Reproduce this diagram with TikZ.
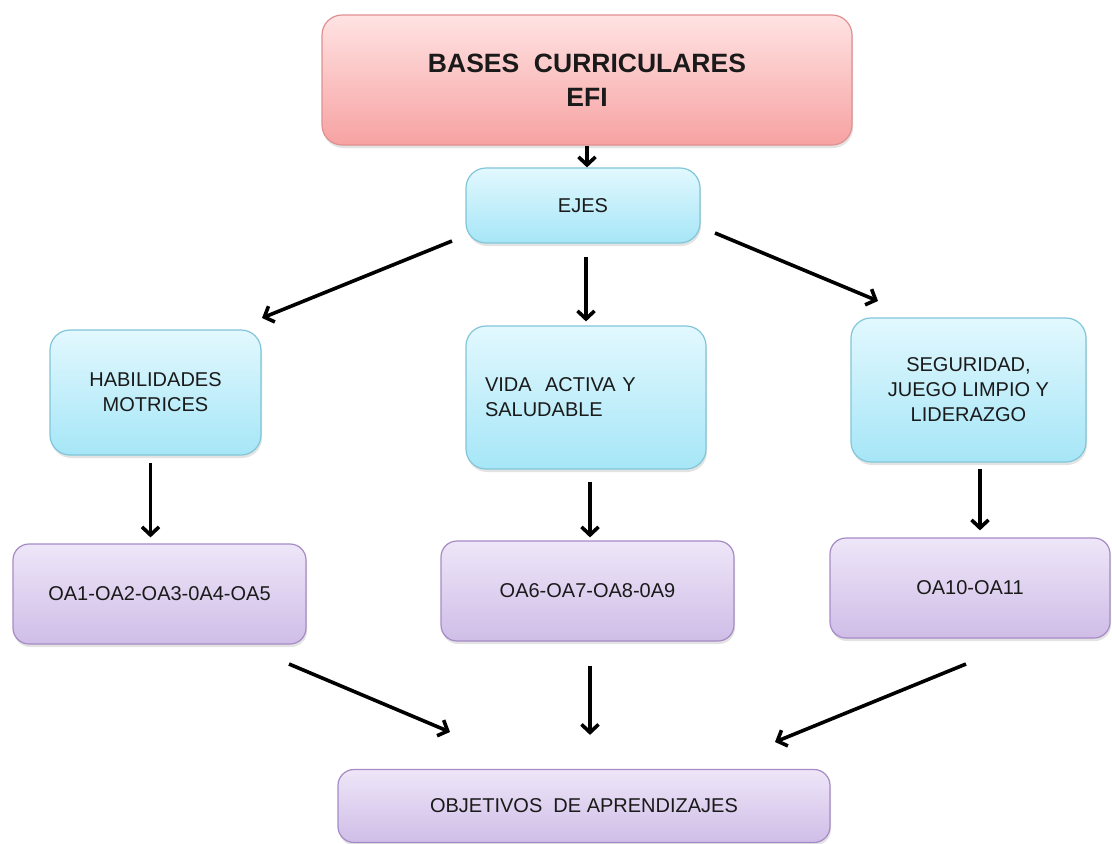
\documentclass[tikz,border=0pt]{standalone}
\usepackage{fontspec}
\setmainfont{Liberation Sans}
\usetikzlibrary{arrows.meta,shadows}
\definecolor{redtop}{HTML}{FFE3E3}
\definecolor{redbot}{HTML}{F7A2A2}
\definecolor{redline}{HTML}{E09090}
\definecolor{bluetop}{HTML}{E2F8FE}
\definecolor{bluebot}{HTML}{A6E6F7}
\definecolor{blueline}{HTML}{80C6D8}
\definecolor{purtop}{HTML}{EEE6F8}
\definecolor{purbot}{HTML}{CFBDE7}
\definecolor{purline}{HTML}{A68BC6}
\definecolor{txt}{HTML}{1A1A1A}
\begin{document}
\begin{tikzpicture}[x=1pt,y=-1pt,
  box/.style={rectangle, rounded corners=20pt, line width=1.2pt, inner sep=0pt,
    text=txt, font=\fontsize{20}{25}\selectfont, align=center,
    drop shadow={opacity=0.22, shadow xshift=1pt, shadow yshift=-3pt}},
  redbox/.style={box, draw=redline, top color=redtop, bottom color=redbot,
    font=\fontsize{26.5}{34}\selectfont\bfseries},
  bluebox/.style={box, draw=blueline, top color=bluetop, bottom color=bluebot},
  purbox/.style={box, rounded corners=16pt, draw=purline, top color=purtop, bottom color=purbot},
  arr/.style={line width=3.6pt, -{Straight Barb[length=8pt,width=17pt,line width=3.6pt]}}
]
\useasboundingbox (0,0) rectangle (1112,844);
\fill[white] (0,0) rectangle (1112,844);

\node[redbox, minimum width=530pt, minimum height=130pt] (top) at (587,80)
  {BASES\ \ CURRICULARES\\EFI};
\node[bluebox, minimum width=234pt, minimum height=75pt] (ejes) at (583,205.5) {EJES};
\node[bluebox, minimum width=211pt, minimum height=125pt] (hab) at (155.5,392.5)
  {HABILIDADES\\MOTRICES};
\node[bluebox, minimum width=240pt, minimum height=143pt, text width=202pt, align=left] (vida) at (586,397.5)
  {VIDA\ \ ACTIVA Y\\SALUDABLE};
\node[bluebox, minimum width=235pt, minimum height=144pt] (seg) at (968.5,390)
  {SEGURIDAD,\\JUEGO LIMPIO Y\\LIDERAZGO};
\node[purbox, minimum width=293pt, minimum height=100pt] (oa1) at (159.5,594)
  {OA1-OA2-OA3-0A4-OA5};
\node[purbox, minimum width=293pt, minimum height=100pt] (oa6) at (587.5,591)
  {OA6-OA7-OA8-0A9};
\node[purbox, minimum width=280pt, minimum height=100pt] (oa10) at (970,588)
  {OA10-OA11};
\node[purbox, minimum width=492pt, minimum height=73pt] (obj) at (584,806)
  {OBJETIVOS\ \ DE APRENDIZAJES};

% free ends of the connectors
\coordinate (eL) at (452,241);
\coordinate (hT) at (262,318);
\coordinate (eR) at (715,233);
\coordinate (sT) at (878,301);
\coordinate (oL) at (289,664);
\coordinate (bL) at (450,732);
\coordinate (oR) at (966,664);
\coordinate (bR) at (775,742);

\draw[arr] (top.south) -- (top.south |- ejes.north);
\draw[arr] (eL) -- (hT);
\draw[arr, shorten <=13pt, shorten >=4pt] (ejes.south -| vida.north) -- (vida.north);
\draw[arr] (eR) -- (sT);
\draw[arr, shorten <=7pt, shorten >=6pt] ([xshift=-5pt]hab.south) -- ([xshift=-5pt]hab.south |- oa1.north);
\draw[arr, shorten <=12pt, shorten >=3pt] ([xshift=4pt]vida.south) -- ([xshift=4pt]vida.south |- oa6.north);
\draw[arr, shorten <=6pt, shorten >=7pt] ([xshift=11.5pt]seg.south) -- ([xshift=11.5pt]seg.south |- oa10.north);
\draw[arr] (oL) -- (bL);
\draw[arr, shorten <=24pt, shorten >=34pt] ([xshift=2.5pt]oa6.south) -- ([xshift=2.5pt]oa6.south |- obj.north);
\draw[arr] (oR) -- (bR);
\end{tikzpicture}
\end{document}
